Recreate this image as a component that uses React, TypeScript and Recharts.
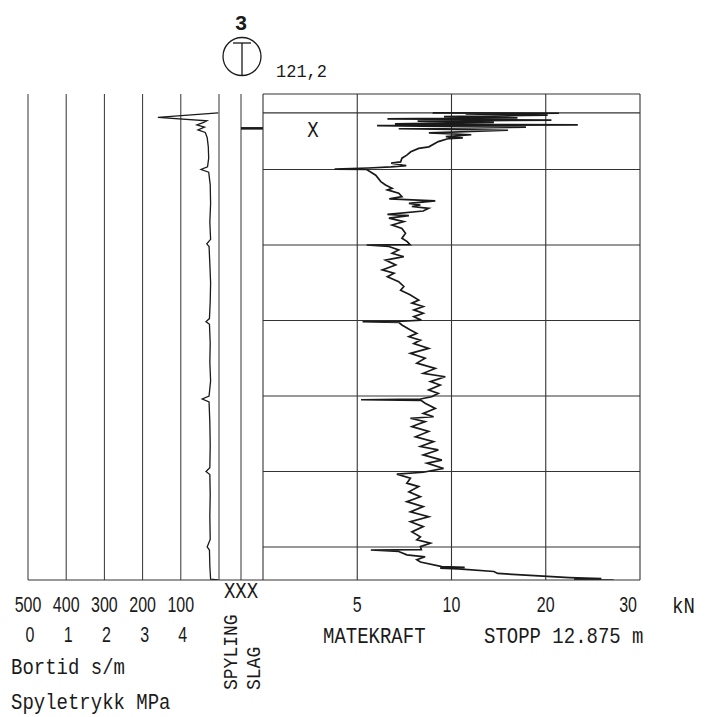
import React from 'react';
import { LineChart, Line, XAxis, YAxis, ReferenceLine } from 'recharts';

// Totalsondering 3 – depth in metres, bortid s/m, matekraft kN
const DEPTH_MAX = 12.875;
const START_DEPTH = 0.5;
const SLAG_DEPTH = 0.91;
const DEPTH_GRID = [2, 4, 6, 8, 10, 12];

// bortid ticks and the spyletrykk ticks that share the same grid lines
const BORTID_TICKS = [500, 400, 300, 200, 100];
const SPYLETRYKK_TICKS = [0, 1, 2, 3, 4];
const BORTID_LINES = [500, 400, 300, 200, 100, 0];
const MATEKRAFT_TICKS = [5, 10, 20, 30];
const MATEKRAFT_LINES = [0, 5, 10, 20, 30];

// [depth m, bortid s/m]
const bortid: [number, number][] = [
  [0.5, 2], [0.62, 160], [0.71, 32], [0.75, 40], [0.82, 58], [0.88, 38], [0.95, 55],
  [1.02, 36], [1.15, 31], [1.4, 28], [1.7, 27], [1.93, 30], [2.0, 47], [2.07, 27],
  [2.4, 23], [2.9, 22], [3.4, 24], [3.85, 22], [3.97, 32], [4.04, 26], [4.5, 24],
  [5.0, 22], [5.5, 23], [5.95, 25], [6.03, 34], [6.1, 25], [6.6, 23], [7.1, 24],
  [7.6, 22], [8.0, 26], [8.08, 44], [8.16, 26], [8.7, 24], [9.3, 23], [9.9, 24],
  [10.0, 34], [10.08, 24], [10.6, 23], [11.2, 24], [11.8, 23], [12.0, 31], [12.08, 25],
  [12.5, 24], [12.85, 22], [12.875, 2],
];

// [depth m, matekraft kN]
const matekraft: [number, number][] = [
  [0.5, 9.0], [0.51, 21.4], [0.53, 11.5], [0.56, 20.2], [0.6, 9.6], [0.63, 17.0],
  [0.66, 6.6], [0.69, 20.6], [0.72, 8.2], [0.75, 14.5], [0.79, 7.0], [0.82, 23.4],
  [0.84, 6.05], [0.88, 17.9], [0.92, 7.2], [0.96, 16.0], [1.03, 8.8], [1.08, 12.1],
  [1.13, 9.7], [1.16, 11.2], [1.18, 9.85], [1.26, 9.3], [1.4, 8.8], [1.44, 8.26],
  [1.53, 7.84], [1.62, 7.63], [1.7, 7.37], [1.8, 7.3], [1.83, 6.8], [1.9, 7.6],
  [1.93, 6.8], [1.96, 5.6], [1.99, 3.8], [2.0, 5.5], [2.15, 5.98], [2.32, 6.25],
  [2.41, 6.5], [2.5, 6.85], [2.54, 6.6], [2.63, 7.2], [2.72, 7.37], [2.78, 6.7],
  [2.83, 9.14], [2.9, 7.74], [2.94, 8.35], [2.98, 7.9], [3.03, 8.79], [3.1, 8.5],
  [3.19, 6.6], [3.22, 7.74], [3.29, 6.68], [3.38, 7.47], [3.47, 6.85], [3.56, 7.37],
  [3.69, 7.56], [3.82, 7.37], [3.91, 7.65], [3.99, 7.8], [4.0, 5.5], [4.04, 6.68],
  [4.13, 7.2], [4.22, 6.85], [4.31, 7.47], [4.4, 6.5], [4.53, 7.04], [4.66, 6.33],
  [4.75, 6.95], [4.84, 6.6], [4.97, 7.2], [5.1, 7.47], [5.2, 7.3], [5.32, 7.8],
  [5.46, 8.26], [5.54, 7.9], [5.63, 8.5], [5.72, 8.0], [5.81, 8.5], [5.9, 8.0],
  [5.99, 8.4], [6.02, 7.4], [6.03, 5.28], [6.05, 7.2], [6.12, 7.37], [6.25, 7.82],
  [6.34, 8.16], [6.43, 7.74], [6.52, 8.35], [6.61, 8.0], [6.74, 8.79], [6.87, 7.82],
  [7.0, 8.6], [7.13, 8.16], [7.27, 9.14], [7.4, 8.5], [7.49, 9.67], [7.62, 8.88],
  [7.71, 9.4], [7.84, 8.79], [7.93, 9.3], [8.02, 8.95], [8.08, 8.35], [8.1, 5.2],
  [8.12, 8.4], [8.19, 8.6], [8.33, 9.14], [8.46, 8.5], [8.55, 9.05], [8.59, 7.82],
  [8.68, 8.6], [8.81, 7.9], [8.94, 8.79], [9.08, 8.09], [9.21, 9.05], [9.34, 8.35],
  [9.43, 9.3], [9.56, 8.5], [9.7, 9.49], [9.78, 8.7], [9.92, 9.58], [10.02, 8.5],
  [10.07, 7.1], [10.18, 7.82], [10.31, 7.63], [10.4, 8.26], [10.54, 7.74], [10.67, 8.35],
  [10.8, 7.63], [10.93, 8.5], [11.07, 7.82], [11.2, 8.79], [11.33, 7.82], [11.46, 8.5],
  [11.6, 7.9], [11.73, 8.35], [11.81, 8.16], [11.9, 8.88], [11.99, 8.35], [12.07, 8.4],
  [12.08, 5.72], [12.12, 7.2], [12.21, 7.63], [12.26, 8.6], [12.34, 8.16], [12.4, 8.35],
  [12.52, 9.49], [12.54, 11.4], [12.56, 9.4], [12.58, 10.7], [12.65, 14.5], [12.7, 14.9],
  [12.76, 18.8], [12.81, 22.5], [12.84, 25.9], [12.86, 23.0], [12.875, 27.2],
];

/* ── plotting helpers ─────────────────────────────── */
// the kN axis is 5 per division up to 10, then 10 per division
const toAxis = (kn: number) => (kn <= 10 ? kn : 10 + (kn - 10) / 2);

const bortidData = bortid.map(([d, s]) => ({ d, s }));
const matekraftData = matekraft.map(([d, kn]) => ({ d, u: toAxis(kn) }));
const slagData = [{ c: 1, d: SLAG_DEPTH }, { c: 2, d: SLAG_DEPTH }];

const INK = '#1a1a1a';
const GRID = '#333';
const MONO = "'Liberation Mono', 'DejaVu Sans Mono', monospace";
const SANS = "'Liberation Sans', Arial, sans-serif";

const PLOT_H = 486;
const PAD = 2;

function Num({ x, y, label, anchor = 'middle' }: any) {
  return (
    <text transform={`translate(${x} ${y}) scale(0.8 1.08)`} textAnchor={anchor}
      fontFamily={SANS} fontSize={20} fill={INK}>
      {label}
    </text>
  );
}

// plotter-style caption: monospace, slightly stretched upwards
function Caption({ x, y, children, rotate = 0, size = 19 }: any) {
  return (
    <text transform={`translate(${x} ${y}) rotate(${rotate}) scale(1 1.12)`}
      fontFamily={MONO} fontSize={size} fill={INK}>
      {children}
    </text>
  );
}

const depthAxis = <YAxis type="number" domain={[0, DEPTH_MAX]} reversed hide allowDataOverflow />;

export default function App() {
  return (
    <div style={{ position: 'absolute', left: 0, top: 0, width: 705, height: 717, background: '#fff' }}>
      {/* Bortid / Spyletrykk */}
      <div style={{ position: 'absolute', left: 0, top: 94 - PAD }}>
        <LineChart width={28 + 191 + PAD} height={PAD + PLOT_H + 70} data={bortidData}
          margin={{ top: PAD, right: PAD, left: 28, bottom: 0 }}>
          <XAxis type="number" dataKey="s" domain={[0, 500]} reversed allowDataOverflow
            ticks={BORTID_TICKS} interval={0} height={70} tickSize={0} tickMargin={32}
            axisLine={{ stroke: GRID }} tickLine={false}
            tick={(p: any) => {
              const i = BORTID_TICKS.indexOf(p.payload.value);
              return (
                <g>
                  <Num x={p.x} y={p.y} label={BORTID_TICKS[i]} />
                  <Num x={p.x + 2} y={p.y + 30} label={SPYLETRYKK_TICKS[i]} />
                </g>
              );
            }} />
          {depthAxis}
          {BORTID_LINES.map(v => (
            <ReferenceLine key={v} x={v} stroke={GRID} strokeWidth={1} />
          ))}
          <Line dataKey="d" type="linear" stroke={INK} strokeWidth={1.3}
            dot={false} isAnimationActive={false} />
        </LineChart>
      </div>

      {/* Spyling / Slag column */}
      <div style={{ position: 'absolute', left: 219 - PAD, top: 94 - PAD }}>
        <LineChart width={44 + 2 * PAD} height={PAD + PLOT_H + 30} data={slagData}
          margin={{ top: PAD, right: PAD, left: PAD, bottom: 0 }}>
          <XAxis type="number" dataKey="c" domain={[0, 2]} allowDataOverflow ticks={[1]} interval={0}
            height={30} tickSize={0} tickMargin={18} axisLine={{ stroke: GRID }} tickLine={false}
            tick={(p: any) => (
              <text transform={`translate(${p.x} ${p.y}) scale(1 1.12)`} textAnchor="middle"
                fontFamily={MONO} fontSize={19} fill={INK}>XXX</text>
            )} />
          {depthAxis}
          <ReferenceLine x={1} stroke={GRID} />
          <Line dataKey="d" type="linear" stroke={INK} strokeWidth={2.6} dot={false} isAnimationActive={false} />
        </LineChart>
      </div>

      {/* Matekraft */}
      <div style={{ position: 'absolute', left: 263 - PAD, top: 94 - PAD }}>
        <LineChart width={377 + 2 * PAD} height={PAD + PLOT_H + 40} data={matekraftData}
          margin={{ top: PAD, right: PAD, left: PAD, bottom: 0 }}>
          <XAxis type="number" dataKey="u" domain={[0, 20]} allowDataOverflow
            ticks={MATEKRAFT_TICKS.map(toAxis)} interval={0} height={40} tickSize={0} tickMargin={32}
            axisLine={{ stroke: GRID }} tickLine={false}
            tick={(p: any) => {
              const i = MATEKRAFT_TICKS.map(toAxis).indexOf(p.payload.value);
              const last = i === MATEKRAFT_TICKS.length - 1;
              return <Num x={last ? p.x - 3 : p.x} y={p.y} label={MATEKRAFT_TICKS[i]} anchor={last ? 'end' : 'middle'} />;
            }} />
          {depthAxis}
          {MATEKRAFT_LINES.map(v => (
            <ReferenceLine key={'x' + v} x={toAxis(v)} stroke={GRID} strokeWidth={1.1} />
          ))}
          {[0, START_DEPTH, ...DEPTH_GRID].map(v => (
            <ReferenceLine key={'y' + v} y={v} stroke={GRID} strokeWidth={1.1} />
          ))}
          <Line dataKey="d" type="linear" stroke={INK} strokeWidth={1.7} dot={false} isAnimationActive={false} />
        </LineChart>
      </div>

      {/* header and captions */}
      <svg width={705} height={717} style={{ position: 'absolute', left: 0, top: 0, pointerEvents: 'none' }}>
        <text x={241} y={30} textAnchor="middle" fontFamily={SANS} fontWeight="bold" fontSize={21} fill={INK}>3</text>
        <circle cx={242} cy={56.5} r={19} fill="none" stroke={INK} strokeWidth={1.3} />
        <line x1={233} y1={43} x2={251} y2={43} stroke={INK} strokeWidth={1.3} />
        <line x1={242} y1={43} x2={242} y2={75} stroke={INK} strokeWidth={1.3} />
        <Caption x={276} y={77} size={17}>121,2</Caption>
        <text transform="translate(313 137) scale(1 1.12)" textAnchor="middle" fontFamily={MONO} fontSize={19} fill={INK}>X</text>

        <Caption x={672} y={613}>kN</Caption>
        <Caption x={323} y={643}>MATEKRAFT</Caption>
        <Caption x={484} y={643}>STOPP 12.875 m</Caption>
        <Caption x={11} y={674}>Bortid s/m</Caption>
        <Caption x={11} y={709}>Spyletrykk MPa</Caption>
        <Caption x={237} y={690} rotate={-90} size={18}>SPYLING</Caption>
        <Caption x={260} y={690} rotate={-90} size={18}>SLAG</Caption>
      </svg>
    </div>
  );
}
